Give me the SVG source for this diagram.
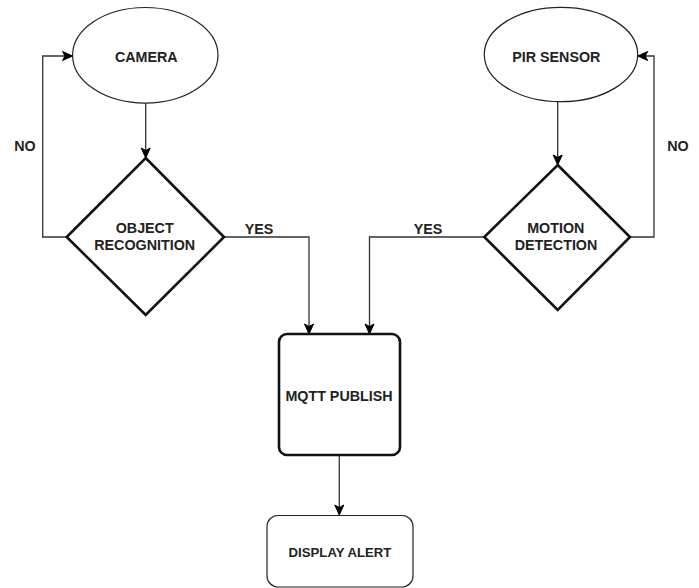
<svg xmlns="http://www.w3.org/2000/svg" width="699" height="588" viewBox="0 0 699 588">
<defs>
<marker id="arr" markerUnits="userSpaceOnUse" markerWidth="12" markerHeight="12" viewBox="0 0 12 12" refX="11" refY="6" orient="auto">
<path d="M1,1.5 L11,6 L1,10.5 L3.5,6 Z" fill="#000" stroke="#000" stroke-width="1"/>
</marker>
</defs>
<style>
.thin{fill:#fff;stroke:#222;stroke-width:1.2}
.thick{fill:#fff;stroke:#111;stroke-width:2.6}
.lbl{font-family:"Liberation Sans",Arial,sans-serif;font-weight:bold;font-size:14.3px;fill:#222;text-anchor:middle}
.con{fill:none;stroke:#333;stroke-width:1.3;marker-end:url(#arr)}
</style>
<rect width="699" height="588" fill="#fff"/>
<g id="connectors">
<path class="con" d="M145.7,103 L145.7,158"/>
<path class="con" d="M66.7,237 L42.7,237 L42.7,56 L72.5,56"/>
<path class="con" d="M224,237 L309,237 L309,334"/>
<path class="con" d="M557.7,102 L557.7,165"/>
<path class="con" d="M630,237 L654,237 L654,56 L637.7,56"/>
<path class="con" d="M484.3,237 L369.5,237 L369.5,334"/>
<path class="con" d="M339.3,455 L339.3,515"/>
<text class="lbl" x="25" y="151">NO</text>
<text class="lbl" x="678" y="150.7">NO</text>
<text class="lbl" x="259" y="234.3">YES</text>
<text class="lbl" x="428" y="234.3">YES</text>
</g>
<g id="camera">
<ellipse class="thin" cx="145.3" cy="55.3" rx="72.7" ry="47.8"/>
<text class="lbl" x="146.3" y="61.7">CAMERA</text>
</g>
<g id="pir">
<ellipse class="thin" cx="561" cy="54.5" rx="76.7" ry="47.2"/>
<text class="lbl" x="556.3" y="61.7">PIR SENSOR</text>
</g>
<g id="object">
<polygon class="thick" points="145.7,158 224,237 145.7,315 66.7,237"/>
<text class="lbl" x="144.7" y="233.3">OBJECT</text>
<text class="lbl" x="144.7" y="250">RECOGNITION</text>
</g>
<g id="motion">
<polygon class="thick" points="557.7,165 630,237 557.7,310 484.3,237"/>
<text class="lbl" x="555.8" y="233">MOTION</text>
<text class="lbl" x="556" y="250">DETECTION</text>
</g>
<g id="mqtt">
<rect class="thick" x="279" y="334" width="121" height="121" rx="8"/>
<text class="lbl" x="339" y="400.7">MQTT PUBLISH</text>
</g>
<g id="display">
<rect class="thin" x="267" y="515.5" width="146" height="71.5" rx="11"/>
<text class="lbl" x="340" y="557.3" style="font-size:13.2px">DISPLAY ALERT</text>
</g>
</svg>
